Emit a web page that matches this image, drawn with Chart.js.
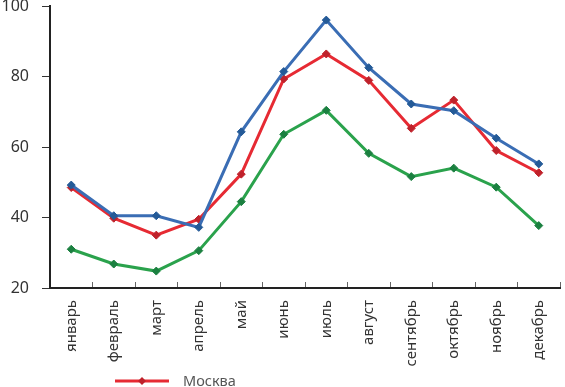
<!DOCTYPE html>
<html>
<head>
<meta charset="utf-8">
<script src="https://cdn.jsdelivr.net/npm/chart.js@4/dist/chart.umd.min.js"></script>
<style>
  html, body { margin: 0; padding: 0; background: #fff; }
  #wrap { width: 565px; height: 387px; }
</style>
</head>
<body>
<div id="wrap"><canvas id="chart" width="565" height="387"></canvas></div>
<script>
const months = ['январь', 'февраль', 'март', 'апрель', 'май', 'июнь',
  'июль', 'август', 'сентябрь', 'октябрь', 'ноябрь', 'декабрь'];
const blueValues = [49.2, 40.5, 40.5, 37.2, 64.3, 81.4, 96.0, 82.5, 72.2, 70.3, 62.5, 55.2];
const moscowValues = [48.5, 39.8, 35.0, 39.5, 52.3, 79.3, 86.4, 78.9, 65.3, 73.3, 59.0, 52.7];
const greenValues = [31.0, 26.8, 24.8, 30.6, 44.5, 63.6, 70.4, 58.2, 51.6, 54.0, 48.6, 37.7];

function series(label, values, line, marker) {
  return {
    label: label,
    data: values,
    borderColor: line,
    backgroundColor: marker,
    pointBackgroundColor: marker,
    pointBorderColor: marker,
    pointStyle: 'rectRot',
    pointRadius: 4,
    pointBorderWidth: 1,
    borderWidth: 3,
    tension: 0
  };
}

// legend drawn by hand: line with a diamond, like the original
const legendPlugin = {
  id: 'lineLegend',
  afterDraw(chart) {
    const ds = chart.data.datasets[1];
    const ctx = chart.ctx;
    const y = 381, x1 = 115, x2 = 169, xm = 142, r = 4;
    ctx.save();
    ctx.strokeStyle = ds.borderColor;
    ctx.lineWidth = 3;
    ctx.beginPath();
    ctx.moveTo(x1, y);
    ctx.lineTo(x2, y);
    ctx.stroke();
    ctx.fillStyle = ds.pointBackgroundColor;
    ctx.beginPath();
    ctx.moveTo(xm, y - r);
    ctx.lineTo(xm + r, y);
    ctx.lineTo(xm, y + r);
    ctx.lineTo(xm - r, y);
    ctx.closePath();
    ctx.fill();
    ctx.fillStyle = '#555';
    ctx.font = '14.5px "Noto Sans"';
    ctx.textBaseline = 'middle';
    ctx.fillText(ds.label, 183, y + 0.5);
    ctx.restore();
  }
};

new Chart(document.getElementById('chart'), {
  type: 'line',
  data: {
    labels: months,
    datasets: [
      series('', blueValues, '#3a6db4', '#245a97'),
      series('Москва', moscowValues, '#e62a33', '#bf222b'),
      series('', greenValues, '#2aa24c', '#1b8040')
    ]
  },
  options: {
    responsive: false,
    animation: false,
    layout: { padding: { top: 6, right: 2, bottom: 0, left: 0 } },
    plugins: {
      legend: { display: false },
      tooltip: { enabled: false }
    },
    scales: {
      x: {
        offset: true,
        afterFit(scale) {
          scale.height = 99;
          scale.paddingLeft = 0;
          scale.paddingRight = 0;
        },
        grid: {
          offset: true,
          drawOnChartArea: false,
          tickLength: -6,
          color: '#666',
          lineWidth: 1
        },
        border: { display: true, color: '#222', width: 2 },
        ticks: {
          autoSkip: false,
          maxRotation: 90,
          minRotation: 90,
          padding: 18,
          color: '#333',
          font: { family: 'Noto Sans', size: 15 }
        }
      },
      y: {
        min: 20,
        max: 100,
        afterFit(scale) {
          scale.width = 50;
          scale.paddingTop = 0;
          scale.paddingBottom = 0;
        },
        grid: {
          drawOnChartArea: false,
          tickLength: 8,
          color: '#333',
          lineWidth: 1
        },
        border: { display: true, color: '#222', width: 2 },
        ticks: {
          stepSize: 20,
          padding: 13,
          color: '#333',
          font: { family: 'Noto Sans', size: 16 }
        }
      }
    }
  },
  plugins: [legendPlugin]
});
</script>
</body>
</html>
